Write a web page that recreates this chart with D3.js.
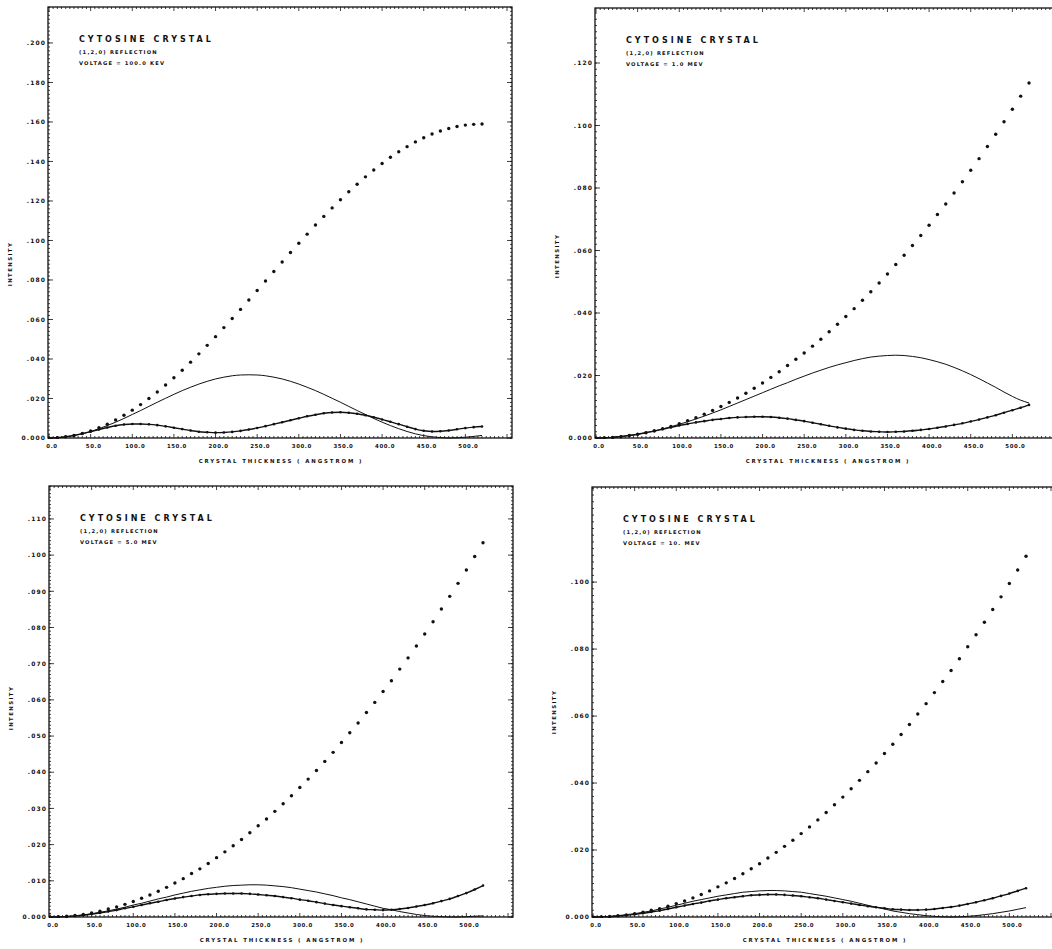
<!DOCTYPE html>
<html>
<head>
<meta charset="utf-8">
<script src="https://cdn.jsdelivr.net/npm/d3@7"></script>
<style>
  body { margin: 0; background: #fff; }
  svg text { font-family: 'DejaVu Sans', sans-serif; font-weight: bold; fill: #111; }
</style>
</head>
<body>
<svg id="chart" width="1052" height="949"></svg>
<script>
'use strict'

// crystal thickness (angstrom) of every computed point
const thickness = d3.range(0, 530, 10)

// 100 keV
const kevDotted = [0, 0.00015, 0.0006, 0.0013, 0.0023, 0.0036, 0.0052, 0.0070, 0.0091, 0.0115, 0.0141, 0.0169, 0.0200, 0.0233, 0.0268, 0.0305, 0.0343, 0.0384, 0.0426, 0.0469, 0.0513, 0.0559, 0.0605, 0.0651, 0.0699, 0.0747, 0.0795, 0.0843, 0.0891, 0.0939, 0.0986, 0.1032, 0.1078, 0.1122, 0.1165, 0.1206, 0.1247, 0.1285, 0.1322, 0.1357, 0.1390, 0.1421, 0.1449, 0.1475, 0.1499, 0.1520, 0.1539, 0.1554, 0.1567, 0.1577, 0.1584, 0.1588, 0.1590]
const kevSolid = [0, 0.00014, 0.00055, 0.0012, 0.0021, 0.0033, 0.0047, 0.0063, 0.0080, 0.0099, 0.0119, 0.0139, 0.0160, 0.0181, 0.0201, 0.0221, 0.0240, 0.0257, 0.0273, 0.0287, 0.0299, 0.0308, 0.0315, 0.0319, 0.0320, 0.0319, 0.0315, 0.0308, 0.0299, 0.0287, 0.0273, 0.0257, 0.0240, 0.0221, 0.0201, 0.0181, 0.0160, 0.0139, 0.0119, 0.0099, 0.0080, 0.0063, 0.0047, 0.0033, 0.0021, 0.0012, 0.0006, 0.0002, 0.0000, 0.0001, 0.0004, 0.0008, 0.0013]
const kevThick = [0, 0.0002, 0.0006, 0.0013, 0.0022, 0.0032, 0.0043, 0.0053, 0.0062, 0.0068, 0.0071, 0.0071, 0.0069, 0.0065, 0.0059, 0.0052, 0.0045, 0.0038, 0.0032, 0.0029, 0.0027, 0.0028, 0.0031, 0.0036, 0.0043, 0.0051, 0.0060, 0.0070, 0.0080, 0.0090, 0.0100, 0.0110, 0.0118, 0.0125, 0.0129, 0.0130, 0.0128, 0.0123, 0.0115, 0.0105, 0.0094, 0.0082, 0.0070, 0.0057, 0.0045, 0.0037, 0.0033, 0.0034, 0.0038, 0.0044, 0.0050, 0.0055, 0.0058]

// 1.0 MeV
const mev1Dotted = [0, 0.00005, 0.0002, 0.0004, 0.0008, 0.0012, 0.0017, 0.0023, 0.0030, 0.0037, 0.0046, 0.0055, 0.0065, 0.0076, 0.0088, 0.0101, 0.0114, 0.0128, 0.0143, 0.0159, 0.0176, 0.0194, 0.0212, 0.0232, 0.0252, 0.0272, 0.0294, 0.0316, 0.0340, 0.0364, 0.0389, 0.0414, 0.0441, 0.0468, 0.0496, 0.0525, 0.0555, 0.0585, 0.0616, 0.0648, 0.0681, 0.0715, 0.0749, 0.0784, 0.0820, 0.0857, 0.0894, 0.0933, 0.0972, 0.1012, 0.1052, 0.1094, 0.1136]
const mev1Solid = [0, 0.00005, 0.0002, 0.0005, 0.0008, 0.0012, 0.0017, 0.0023, 0.0029, 0.0036, 0.0044, 0.0052, 0.0061, 0.0070, 0.0080, 0.0090, 0.0101, 0.0112, 0.0123, 0.0134, 0.0145, 0.0156, 0.0167, 0.0177, 0.0188, 0.0198, 0.0208, 0.0217, 0.0226, 0.0234, 0.0241, 0.0248, 0.0254, 0.0259, 0.0262, 0.0264, 0.0265, 0.0264, 0.0261, 0.0257, 0.0251, 0.0244, 0.0236, 0.0226, 0.0215, 0.0203, 0.0190, 0.0176, 0.0162, 0.0147, 0.0133, 0.0121, 0.0112]
const mev1Thick = [0, 0.00005, 0.0002, 0.0005, 0.0008, 0.0012, 0.0017, 0.0022, 0.0028, 0.0034, 0.0040, 0.0045, 0.0050, 0.0054, 0.0058, 0.0061, 0.0064, 0.0066, 0.0067, 0.0068, 0.0068, 0.0067, 0.0065, 0.0062, 0.0058, 0.0054, 0.0049, 0.0044, 0.0039, 0.0034, 0.0030, 0.0026, 0.0023, 0.0021, 0.0020, 0.0019, 0.0020, 0.0021, 0.0023, 0.0026, 0.0029, 0.0033, 0.0037, 0.0042, 0.0047, 0.0053, 0.0059, 0.0066, 0.0073, 0.0081, 0.0089, 0.0097, 0.0106]

// 5.0 MeV
const mev5Dotted = [0, 0.00005, 0.0002, 0.0004, 0.0007, 0.0011, 0.0016, 0.0022, 0.0028, 0.0035, 0.0043, 0.0052, 0.0061, 0.0071, 0.0082, 0.0094, 0.0106, 0.0120, 0.0133, 0.0148, 0.0164, 0.0180, 0.0197, 0.0214, 0.0233, 0.0252, 0.0271, 0.0292, 0.0313, 0.0335, 0.0358, 0.0381, 0.0405, 0.0430, 0.0455, 0.0482, 0.0509, 0.0536, 0.0565, 0.0593, 0.0623, 0.0653, 0.0685, 0.0716, 0.0749, 0.0782, 0.0816, 0.0851, 0.0886, 0.0922, 0.0959, 0.0996, 0.1034]
const mev5Solid = [0, 0.00004, 0.00015, 0.0003, 0.0006, 0.0009, 0.0013, 0.0017, 0.0022, 0.0027, 0.0033, 0.0038, 0.0044, 0.0050, 0.0055, 0.0061, 0.0066, 0.0071, 0.0075, 0.0079, 0.0082, 0.0085, 0.0087, 0.0088, 0.0089, 0.0089, 0.0088, 0.0086, 0.0084, 0.0081, 0.0077, 0.0073, 0.0069, 0.0064, 0.0059, 0.0053, 0.0048, 0.0042, 0.0036, 0.0030, 0.0024, 0.0020, 0.0015, 0.0011, 0.0007, 0.0004, 0.0002, 0.0001, 0, 0, 0.0001, 0.0002, 0.0003]
const mev5Thick = [0, 0.00003, 0.0001, 0.0003, 0.0005, 0.0008, 0.0011, 0.0015, 0.0019, 0.0024, 0.0028, 0.0033, 0.0038, 0.0042, 0.0047, 0.0051, 0.0055, 0.0058, 0.0061, 0.0063, 0.0064, 0.0065, 0.0065, 0.0065, 0.0064, 0.0062, 0.0060, 0.0058, 0.0055, 0.0052, 0.0048, 0.0045, 0.0041, 0.0037, 0.0033, 0.0030, 0.0027, 0.0024, 0.0021, 0.0020, 0.0019, 0.0020, 0.0022, 0.0025, 0.0029, 0.0033, 0.0038, 0.0044, 0.0050, 0.0058, 0.0066, 0.0076, 0.0087]

// 10 MeV
const mev10Dotted = [0, 0.00004, 0.00016, 0.00036, 0.00064, 0.0010, 0.0014, 0.0020, 0.0025, 0.0032, 0.0040, 0.0048, 0.0057, 0.0067, 0.0078, 0.0090, 0.0102, 0.0115, 0.0129, 0.0144, 0.0159, 0.0176, 0.0193, 0.0211, 0.0229, 0.0249, 0.0269, 0.0290, 0.0312, 0.0335, 0.0358, 0.0383, 0.0408, 0.0434, 0.0460, 0.0488, 0.0516, 0.0545, 0.0575, 0.0606, 0.0637, 0.0670, 0.0703, 0.0736, 0.0771, 0.0807, 0.0843, 0.0880, 0.0918, 0.0956, 0.0996, 0.1036, 0.1077]
const mev10Solid = [0, 0.00004, 0.00016, 0.0004, 0.0007, 0.0010, 0.0014, 0.0018, 0.0024, 0.0029, 0.0035, 0.0041, 0.0047, 0.0052, 0.0057, 0.0062, 0.0066, 0.0070, 0.0074, 0.0076, 0.0078, 0.0079, 0.0079, 0.0078, 0.0076, 0.0074, 0.0070, 0.0066, 0.0062, 0.0057, 0.0052, 0.0047, 0.0041, 0.0035, 0.0029, 0.0024, 0.0018, 0.0014, 0.0010, 0.0007, 0.0004, 0.0002, 0.00005, 0, 0.00005, 0.0002, 0.0004, 0.0007, 0.0010, 0.0014, 0.0018, 0.0023, 0.0028]
const mev10Thick = [0, 0.00003, 0.0001, 0.0003, 0.0005, 0.0008, 0.0011, 0.0015, 0.0019, 0.0024, 0.0029, 0.0034, 0.0039, 0.0043, 0.0048, 0.0052, 0.0056, 0.0059, 0.0062, 0.0065, 0.0066, 0.0067, 0.0067, 0.0066, 0.0064, 0.0062, 0.0059, 0.0056, 0.0052, 0.0048, 0.0044, 0.0040, 0.0036, 0.0032, 0.0029, 0.0026, 0.0023, 0.0022, 0.0021, 0.0021, 0.0022, 0.0024, 0.0027, 0.0030, 0.0034, 0.0039, 0.0044, 0.0050, 0.0056, 0.0063, 0.0070, 0.0078, 0.0086]

const xTicks = [0, 50, 100, 150, 200, 250, 300, 350, 400, 450, 500]
const kevYTicks = [0, 0.02, 0.04, 0.06, 0.08, 0.10, 0.12, 0.14, 0.16, 0.18, 0.20]
const mev1YTicks = [0, 0.02, 0.04, 0.06, 0.08, 0.10, 0.12]
const mev5YTicks = [0, 0.01, 0.02, 0.03, 0.04, 0.05, 0.06, 0.07, 0.08, 0.09, 0.10, 0.11]
const mev10YTicks = [0, 0.02, 0.04, 0.06, 0.08, 0.10]

const titleText = 'CYTOSINE CRYSTAL'
const reflectionText = '(1,2,0) REFLECTION'
const xTitle = 'CRYSTAL THICKNESS ( ANGSTROM )'
const yTitle = 'INTENSITY'

const PAGE_WIDTH = 1052
const BOX_WIDTH = 464
const X_MAX = 556

const panels = [
  { left: 48, top: 7, bottom: 438, yMax: 0.2182, minorY: 0.002, yTicks: kevYTicks, yTitleAt: 264, voltage: 'VOLTAGE = 100.0 KEV', dotted: kevDotted, solid: kevSolid, thick: kevThick },
  { left: 595, top: 8, bottom: 438, yMax: 0.1376, minorY: 0.002, yTicks: mev1YTicks, yTitleAt: 256, voltage: 'VOLTAGE = 1.0 MEV', dotted: mev1Dotted, solid: mev1Solid, thick: mev1Thick },
  { left: 49, top: 486, bottom: 917, yMax: 0.1191, minorY: 0.001, yTicks: mev5YTicks, yTitleAt: 708, voltage: 'VOLTAGE = 5.0 MEV', dotted: mev5Dotted, solid: mev5Solid, thick: mev5Thick },
  { left: 592, top: 487, bottom: 917, yMax: 0.1284, minorY: 0.002, yTicks: mev10YTicks, yTitleAt: 712, voltage: 'VOLTAGE = 10. MEV', dotted: mev10Dotted, solid: mev10Solid, thick: mev10Thick }
]

function yLabel (v) {
  if (v === 0) return '0.000'
  return d3.format('.3f')(v).replace(/^0/, '')
}

function drawPanel (svg, p) {
  const g = svg.append('g')
  const x = d3.scaleLinear().domain([0, X_MAX]).range([p.left + 1, p.left + BOX_WIDTH])
  const y = d3.scaleLinear().domain([0, p.yMax]).range([p.bottom, p.top])
  const right = p.left + BOX_WIDTH

  // frame
  g.append('rect')
    .attr('x', p.left).attr('y', p.top)
    .attr('width', BOX_WIDTH).attr('height', p.bottom - p.top)
    .attr('fill', 'none').attr('stroke', '#111').attr('stroke-width', 1.3)

  // minor ticks on all four sides, longer ones at the labelled values
  const minorX = d3.range(0, X_MAX, 5)
  const minorYs = d3.range(0, p.yMax, p.minorY)
  const ticks = g.append('g').attr('stroke', '#111').attr('stroke-width', 0.8)
  ticks.selectAll('.mxb').data(minorX).enter().append('line')
    .attr('x1', d => x(d)).attr('x2', d => x(d))
    .attr('y1', p.bottom).attr('y2', d => p.bottom - (d % 50 === 0 ? 4 : 2))
  ticks.selectAll('.mxt').data(minorX).enter().append('line')
    .attr('x1', d => x(d)).attr('x2', d => x(d))
    .attr('y1', p.top).attr('y2', d => p.top + (d % 50 === 0 ? 4 : 2))
  ticks.selectAll('.myl').data(minorYs).enter().append('line')
    .attr('x1', p.left).attr('x2', p.left + 2)
    .attr('y1', d => y(d)).attr('y2', d => y(d))
  ticks.selectAll('.Myl').data(p.yTicks).enter().append('line')
    .attr('x1', p.left).attr('x2', p.left + 5)
    .attr('y1', d => y(d)).attr('y2', d => y(d))
  if (right < PAGE_WIDTH) {
    ticks.selectAll('.myr').data(minorYs).enter().append('line')
      .attr('x1', right).attr('x2', right - 2)
      .attr('y1', d => y(d)).attr('y2', d => y(d))
    ticks.selectAll('.Myr').data(p.yTicks).enter().append('line')
      .attr('x1', right).attr('x2', right - 5)
      .attr('y1', d => y(d)).attr('y2', d => y(d))
  }

  // tick labels
  g.selectAll('.yl').data(p.yTicks).enter().append('text')
    .attr('x', p.left - 2).attr('y', d => y(d) + 2.2)
    .attr('text-anchor', 'end')
    .style('font-size', '6px').style('letter-spacing', '1.1px')
    .text(yLabel)
  g.selectAll('.xl').data(xTicks).enter().append('text')
    .attr('x', d => x(d) + 3).attr('y', p.bottom + 10)
    .attr('text-anchor', 'middle')
    .style('font-size', '5.4px').style('letter-spacing', '0.6px')
    .text(d => d3.format('.1f')(d))

  g.append('text')
    .attr('x', p.left + 233).attr('y', p.bottom + 25)
    .attr('text-anchor', 'middle')
    .style('font-size', '5.4px').style('letter-spacing', '1.9px')
    .text(xTitle)
  g.append('text')
    .attr('transform', `translate(${p.left - 36},${p.yTitleAt}) rotate(-90)`)
    .attr('text-anchor', 'middle')
    .style('font-size', '5.4px').style('letter-spacing', '1.4px')
    .text(yTitle)

  // title block
  g.append('text')
    .attr('x', p.left + 31).attr('y', p.top + 35)
    .style('font-size', '8px').style('letter-spacing', '3px')
    .text(titleText)
  g.append('text')
    .attr('x', p.left + 31).attr('y', p.top + 47)
    .style('font-size', '5.2px').style('letter-spacing', '1.2px')
    .text(reflectionText)
  g.append('text')
    .attr('x', p.left + 31).attr('y', p.top + 58)
    .style('font-size', '5.2px').style('letter-spacing', '1.2px')
    .text(p.voltage)

  const clipId = 'clip' + p.left + p.top
  svg.append('clipPath').attr('id', clipId).append('rect')
    .attr('x', p.left).attr('y', p.top - 2).attr('width', BOX_WIDTH).attr('height', p.bottom - p.top + 3)
  const plot = g.append('g').attr('clip-path', `url(#${clipId})`)

  const line = d3.line().x((d, i) => x(thickness[i])).y(d => y(d)).curve(d3.curveMonotoneX)

  plot.append('path').datum(p.solid)
    .attr('d', line).attr('fill', 'none').attr('stroke', '#111').attr('stroke-width', 1)
  plot.append('path').datum(p.thick)
    .attr('d', line).attr('fill', 'none').attr('stroke', '#111').attr('stroke-width', 1.4)
  plot.selectAll('.td').data(p.thick).enter().append('circle')
    .attr('cx', (d, i) => x(thickness[i])).attr('cy', d => y(d))
    .attr('r', 1.3).attr('fill', '#111')
  plot.selectAll('.dd').data(p.dotted).enter().append('circle')
    .attr('cx', (d, i) => x(thickness[i])).attr('cy', d => y(d))
    .attr('r', 1.7).attr('fill', '#111')
}

const svg = d3.select('#chart')
panels.forEach(p => drawPanel(svg, p))
</script>
</body>
</html>
